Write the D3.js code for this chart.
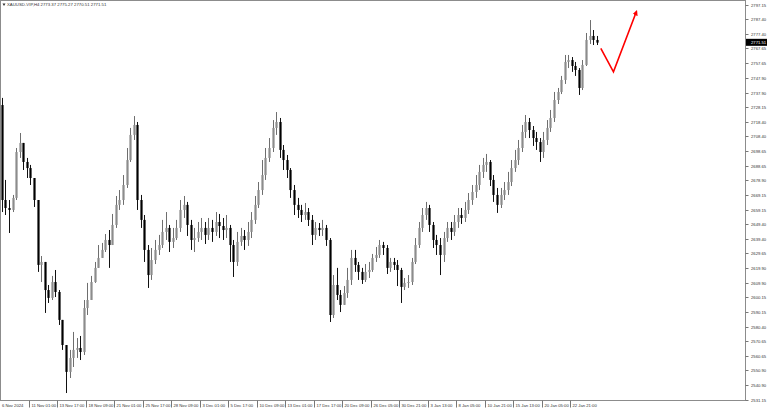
<!DOCTYPE html>
<html><head><meta charset="utf-8">
<script src="https://cdn.jsdelivr.net/npm/d3@7"></script>
<style>html,body{margin:0;padding:0;background:#fff;overflow:hidden}svg{display:block}</style>
</head><body><svg id="c" width="768" height="412"></svg>
<script>
const symbolTitle = "XAUUSD-VIP,H4";
const lastOHLC = ["2773.37","2775.27","2770.51","2771.51"];
const firstOpen = 2729.5;
const closes = [
2665.6,2660.2,2658.9,2667.0,2697.9,2704.0,2691.2,2687.1,2680.4,2665.6,
2621.9,2623.9,2605.0,2599.7,2610.4,2603.7,2584.9,2568.0,2549.9,2559.3,
2564.7,2566.0,2563.3,2592.9,2598.3,2610.4,2619.9,2626.6,2632.0,2638.7,
2635.3,2648.8,2662.3,2665.6,2675.7,2692.5,2709.4,2716.1,2665.6,2652.2,
2632.0,2615.1,2625.2,2632.0,2635.3,2644.1,2646.8,2637.4,2640.0,2646.8,
2658.9,2662.3,2648.8,2638.7,2640.0,2644.1,2646.8,2642.1,2646.8,2644.1,
2650.8,2648.1,2645.4,2646.8,2635.3,2623.9,2637.4,2641.4,2638.7,2644.1,
2652.2,2662.3,2672.3,2682.4,2693.9,2700.6,2714.1,2718.1,2699.3,2692.5,
2685.8,2672.3,2662.3,2658.9,2655.5,2657.5,2652.2,2642.1,2646.8,2645.4,
2646.8,2638.7,2588.2,2608.4,2601.7,2595.0,2603.0,2611.8,2626.6,2621.9,
2617.2,2611.8,2617.2,2618.5,2626.6,2628.6,2635.3,2633.3,2619.9,2623.9,
2621.9,2618.5,2607.1,2609.8,2610.4,2623.9,2635.3,2646.8,2655.5,2660.2,
2648.8,2638.7,2635.3,2628.6,2640.0,2646.8,2644.1,2650.8,2655.5,2653.5,
2658.9,2665.6,2671.0,2675.7,2684.5,2689.2,2691.2,2679.1,2669.0,2662.3,
2669.0,2672.3,2677.7,2687.1,2692.5,2700.6,2711.4,2718.1,2712.7,2707.3,
2704.6,2697.9,2706.0,2714.1,2720.8,2732.9,2738.3,2746.4,2758.5,2759.8,
2755.8,2753.1,2741.0,2756.5,2773.3,2776.0,2773.3,2771.5];
const highs = [
2734.3,2679.1,2665.6,2669.0,2700.6,2710.7,2704.0,2693.9,2689.2,2675.7,
2665.6,2627.9,2623.9,2608.4,2614.5,2618.5,2605.0,2584.9,2568.0,2564.7,
2576.8,2572.7,2574.1,2598.3,2609.8,2614.5,2623.9,2635.3,2636.7,2642.7,
2645.4,2656.2,2668.3,2672.3,2682.4,2700.6,2714.1,2722.1,2718.1,2669.0,
2655.5,2635.3,2633.3,2638.7,2642.1,2652.2,2657.5,2648.8,2646.8,2652.2,
2665.6,2668.3,2664.3,2652.2,2646.8,2650.8,2653.5,2650.8,2653.5,2652.2,
2657.5,2656.2,2653.5,2655.5,2648.8,2638.7,2644.1,2646.8,2645.4,2650.8,
2657.5,2668.3,2677.7,2692.5,2700.6,2707.3,2719.4,2724.8,2720.8,2702.6,
2695.9,2687.1,2675.7,2667.0,2662.3,2663.6,2660.2,2655.5,2650.8,2650.1,
2652.2,2648.8,2640.0,2615.1,2619.9,2605.0,2607.7,2619.9,2632.0,2632.0,
2623.9,2619.9,2622.5,2623.9,2629.3,2634.0,2638.7,2637.4,2635.3,2626.6,
2626.6,2625.2,2619.9,2613.1,2615.1,2626.6,2640.0,2650.8,2660.2,2664.3,
2662.3,2650.8,2642.1,2640.0,2644.1,2650.8,2650.8,2655.5,2660.2,2660.2,
2664.3,2670.3,2675.7,2682.4,2689.2,2693.9,2696.6,2692.5,2682.4,2673.7,
2673.7,2677.7,2684.5,2692.5,2699.3,2706.0,2716.1,2722.8,2720.8,2715.4,
2711.4,2707.3,2711.4,2719.4,2726.2,2738.3,2741.0,2749.1,2763.2,2763.2,
2761.8,2758.5,2754.4,2759.8,2778.0,2786.7,2780.0,2776.0];
const lows = [
2657.5,2655.5,2643.4,2657.5,2665.6,2693.9,2685.8,2680.4,2675.7,2660.9,
2617.2,2610.4,2589.6,2596.3,2598.3,2600.3,2581.5,2564.7,2535.7,2545.8,
2553.2,2559.3,2557.9,2561.3,2588.2,2605.0,2609.8,2621.2,2626.6,2630.6,
2619.9,2635.3,2646.8,2658.9,2662.3,2673.7,2691.2,2706.0,2658.9,2646.8,
2623.9,2606.4,2611.8,2622.5,2628.6,2633.3,2638.7,2630.6,2633.3,2638.7,
2644.1,2653.5,2641.4,2632.0,2630.6,2637.4,2638.7,2636.0,2638.7,2637.4,
2641.4,2640.0,2638.7,2640.0,2623.9,2613.8,2621.2,2634.7,2632.0,2634.7,
2640.0,2649.5,2660.2,2669.0,2679.1,2691.2,2697.9,2709.4,2693.9,2685.8,
2680.4,2667.0,2655.5,2653.5,2650.8,2652.2,2648.1,2635.3,2638.7,2641.4,
2641.4,2634.7,2583.5,2586.2,2598.3,2590.2,2595.0,2599.7,2608.4,2617.2,
2611.8,2609.1,2610.4,2613.1,2617.2,2623.9,2626.6,2628.6,2615.8,2617.2,
2618.5,2607.7,2596.3,2605.0,2606.4,2608.4,2622.5,2633.3,2644.1,2652.2,
2644.1,2633.3,2628.6,2615.1,2623.9,2637.4,2638.7,2641.4,2646.8,2649.5,
2650.8,2656.2,2662.3,2667.0,2672.3,2680.4,2684.5,2675.0,2664.3,2656.9,
2660.2,2665.6,2669.0,2675.0,2684.5,2689.2,2697.9,2707.3,2707.3,2702.0,
2699.3,2691.2,2693.9,2702.6,2711.4,2718.1,2730.2,2736.9,2743.7,2754.4,
2751.8,2749.1,2736.3,2739.6,2755.8,2770.6,2769.9,2769.9];
const priceTicks = [2797.15,2787.40,2777.40,2767.65,2757.65,2747.90,2737.90,2728.15,2718.40,2708.40,
  2698.65,2688.65,2678.90,2669.15,2659.15,2649.40,2639.40,2629.65,2619.90,2609.90,
  2600.15,2590.15,2580.40,2570.65,2560.65,2550.90,2540.90,2531.15];
const timeTickBars = [0,15,31,47,63,79,95,111,127,143,159,175,191,207,223,239,255,271,287,303,319];
const timeTickLabels = ["6 Nov 2024","11 Nov 01:00","13 Nov 17:00","18 Nov 09:00","21 Nov 01:00","25 Nov 17:00",
  "28 Nov 09:00","3 Dec 01:00","5 Dec 17:00","10 Dec 09:00","13 Dec 01:00","17 Dec 17:00","20 Dec 09:00",
  "26 Dec 05:00","30 Dec 21:00","3 Jan 13:00","8 Jan 05:00","10 Jan 21:00","15 Jan 13:00","20 Jan 05:00","22 Jan 21:00"];
const currentPrice = 2771.51;
const arrowPath = [[336.3,2767.7],[343.4,2751.9],[356.2,2792.1]];

const svg = d3.select("#c");
const W = 768, H = 412, R = 745.5, B = 400.5;
const font = "'Liberation Sans', Arial, sans-serif";
const x = d3.scaleLinear().domain([0, 319]).range([1.9, 570]);
const y = d3.scaleLinear().domain([2531.0, 2800.2]).range([400, 0]);

svg.append("rect").attr("width", W).attr("height", H).attr("fill", "#fff");

const defs = svg.append("defs");
defs.append("clipPath").attr("id","plot").append("rect").attr("x",0).attr("y",0).attr("width",R).attr("height",B);
defs.append("marker").attr("id","ah").attr("viewBox","0 0 10 10").attr("refX",6).attr("refY",5)
  .attr("markerWidth",3.4).attr("markerHeight",3.4).attr("orient","auto")
  .append("path").attr("d","M0,0 L10,5 L0,10 z").attr("fill","#ff0000");

const candles = closes.map((c, i) => {
  const o = i === 0 ? firstOpen : closes[i-1];
  return {bar: 2*i, o, c, h: Math.max(highs[i], o, c), l: Math.min(lows[i], o, c)};
});

const g = svg.append("g").attr("clip-path","url(#plot)");
const bw = 2.2;
const cg = g.selectAll("g.cd").data(candles).join("g").attr("class","cd");
cg.append("line")
  .attr("x1", d => Math.round(x(d.bar)) + 0.5).attr("x2", d => Math.round(x(d.bar)) + 0.5)
  .attr("y1", d => y(d.h)).attr("y2", d => y(d.l))
  .attr("stroke", d => d.c >= d.o ? "#6e6e6e" : "#111").attr("stroke-width", 1);
cg.append("rect")
  .attr("x", d => Math.round(x(d.bar)) + 0.5 - bw/2)
  .attr("width", bw)
  .attr("y", d => y(Math.max(d.o, d.c)))
  .attr("height", d => Math.max(1, Math.abs(y(d.o) - y(d.c))))
  .attr("fill", d => d.c >= d.o ? "#8c8c8c" : "#000");

// red annotation arrow
svg.append("path")
  .attr("d", d3.line().x(d => x(d[0])).y(d => y(d[1]))(arrowPath))
  .attr("fill","none").attr("stroke","#ff0000").attr("stroke-width",1.6)
  .attr("stroke-linejoin","miter").attr("marker-end","url(#ah)");

// frame
svg.append("rect").attr("x",0.5).attr("y",0.5).attr("width",R-0.5).attr("height",B-0.5)
  .attr("fill","none").attr("stroke","#8c8c8c").attr("stroke-width",1);

// price axis
const pa = svg.append("g");
priceTicks.forEach(p => {
  const yy = Math.round(y(p)) + 0.5;
  pa.append("line").attr("x1",R).attr("x2",R+3).attr("y1",yy).attr("y2",yy).attr("stroke","#777");
  pa.append("text").attr("x",751).attr("y",yy).attr("dy","0.35em")
    .attr("font-family",font).attr("font-size",4.2).attr("fill","#333").text(p.toFixed(2));
});
const cy = y(currentPrice);
pa.append("rect").attr("x",746).attr("y",cy-3.8).attr("width",21).attr("height",7).attr("fill","#000");
pa.append("text").attr("x",751).attr("y",cy).attr("dy","0.35em")
  .attr("font-family",font).attr("font-size",4.2).attr("fill","#fff").text(currentPrice.toFixed(2));

// time axis
const ta = svg.append("g");
timeTickBars.forEach((b, i) => {
  const xx = i === 0 ? 0 : Math.round(x(b)) + 0.5;
  if (i > 0) ta.append("line").attr("x1",xx).attr("x2",xx).attr("y1",B).attr("y2",B+7).attr("stroke","#777");
  ta.append("text").attr("x", i === 0 ? 2 : xx + 2).attr("y",406.5)
    .attr("font-family",font).attr("font-size",4.2).attr("fill","#333").text(timeTickLabels[i]);
});

// title
svg.append("path").attr("d","M2.5,3.5 L5.5,3.5 L4,6 z").attr("fill","#333");
svg.append("text").attr("x",7).attr("y",6.3).attr("font-family",font).attr("font-size",4.3).attr("fill","#333")
  .text(symbolTitle + "  " + lastOHLC.join(" "));
</script></body></html>
